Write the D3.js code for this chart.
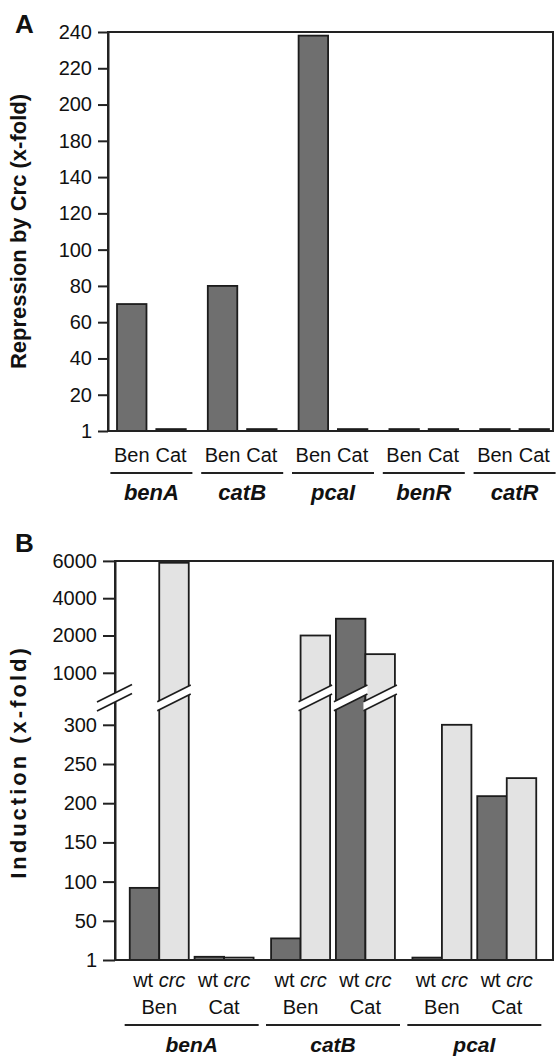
<!DOCTYPE html>
<html>
<head>
<meta charset="utf-8">
<script src="https://cdn.jsdelivr.net/npm/d3@7"></script>
<style>
  body { margin: 0; background: #fff; }
  svg { display: block; font-family: "Liberation Sans", Arial, sans-serif; }
  .tick text { font-size: 20px; fill: #111; }
  .tick line, .domain { stroke: #222; stroke-width: 2; }
</style>
</head>
<body>
<div id="chart"></div>
<script>
// ---- panel A data: repression by Crc
const genesA = ["benA", "catB", "pcaI", "benR", "catR"];
const condsA = ["Ben", "Cat"];
const benA_vals = [70, 80, 238, 2, 2];      // Ben, per gene
const catA_vals = [2, 2, 2, 2, 2];          // Cat, per gene
const ticksA = [1, 20, 40, 60, 80, 100, 120, 140, 180, 200, 220, 240];

// ---- panel B data: induction
const genesB = ["benA", "catB", "pcaI"];
const condsB = ["Ben", "Cat"];
const strainsB = ["wt", "crc"];
const wtBen = [92, 28, 4];
const crcBen = [5900, 2000, 300];
const wtCat = [5, 2900, 209];
const crcCat = [4, 1500, 232];
const ticksB = [1, 50, 100, 150, 200, 250, 300, 1000, 2000, 4000, 6000];

const W = 556, H = 1058;
const darkFill = "#6f6f6f", lightFill = "#e3e3e3", barStroke = "#1c1c1c";

const svg = d3.select("#chart").append("svg")
    .attr("width", W).attr("height", H);

// ================= panel A =================
let a_left = 108, a_right = 553, a_top = 32, a_bottom = 431;

// tick labels are evenly spaced (160 is skipped on the original axis)
let stepA = (a_bottom - a_top) / (ticksA.length - 1);
let yA = d3.scaleLinear()
    .domain(ticksA)
    .range(ticksA.map((t, i) => a_bottom - i * stepA));

let x0A = d3.scaleBand().domain(genesA).range([106, 560]).padding(0);
let x1A = d3.scaleBand().domain(condsA).range([0, x0A.bandwidth()])
    .paddingInner(0.25).paddingOuter(0.28);

let dataA = [];
genesA.forEach((g, i) => {
  dataA.push({gene: g, cond: "Ben", value: benA_vals[i]});
  dataA.push({gene: g, cond: "Cat", value: catA_vals[i]});
});

let gA = svg.append("g");

gA.selectAll("rect.bar").data(dataA).enter().append("rect")
    .attr("class", "bar")
    .attr("x", d => x0A(d.gene) + x1A(d.cond))
    .attr("width", x1A.bandwidth())
    .attr("y", d => yA(d.value))
    .attr("height", d => yA(1) - yA(d.value))
    .attr("fill", darkFill)
    .attr("stroke", barStroke)
    .attr("stroke-width", 1.8);

gA.append("rect")
    .attr("x", a_left).attr("y", a_top)
    .attr("width", a_right - a_left).attr("height", a_bottom - a_top)
    .attr("fill", "none").attr("stroke", "#222").attr("stroke-width", 2);

gA.append("g")
    .attr("transform", "translate(" + a_left + ",0)")
    .call(d3.axisLeft(yA).tickValues(ticksA).tickFormat(d3.format("d"))
      .tickSize(10).tickPadding(6).tickSizeOuter(0));

// category labels
gA.selectAll("text.cond").data(dataA).enter().append("text")
    .attr("class", "cond")
    .attr("x", d => x0A(d.gene) + x1A(d.cond) + x1A.bandwidth() / 2)
    .attr("y", 462)
    .attr("text-anchor", "middle")
    .attr("font-size", 20)
    .attr("fill", "#111")
    .text(d => d.cond);

gA.selectAll("line.grp").data(genesA).enter().append("line")
    .attr("class", "grp")
    .attr("x1", d => x0A(d) + x0A.bandwidth() / 2 - 41)
    .attr("x2", d => x0A(d) + x0A.bandwidth() / 2 + 41)
    .attr("y1", 473).attr("y2", 473)
    .attr("stroke", "#222").attr("stroke-width", 2);

gA.selectAll("text.gene").data(genesA).enter().append("text")
    .attr("class", "gene")
    .attr("x", d => x0A(d) + x0A.bandwidth() / 2)
    .attr("y", 500)
    .attr("text-anchor", "middle")
    .attr("font-size", 22)
    .attr("font-weight", "bold")
    .attr("font-style", "italic")
    .attr("fill", "#111")
    .text(d => d);

gA.append("text")
    .attr("transform", "translate(26," + ((a_top + a_bottom) / 2) + ") rotate(-90)")
    .attr("text-anchor", "middle")
    .attr("font-size", 22)
    .attr("font-weight", "bold")
    .attr("fill", "#111")
    .text("Repression by Crc (x-fold)");

svg.append("text")
    .attr("x", 15).attr("y", 33)
    .attr("font-size", 26).attr("font-weight", "bold").attr("fill", "#111")
    .text("A");

// ================= panel B =================
let b_left = 115, b_right = 553, b_top = 561, b_bottom = 960;
let lowStep = 39.2, upStep = 37.3;
let breakGap = 52;
let rangeB = ticksB.map((t, i) => {
  if (i <= 6) return b_bottom - i * lowStep;
  return b_bottom - 6 * lowStep - breakGap - (i - 7) * upStep;
});
let yB = d3.scaleLinear().domain(ticksB).range(rangeB);
let breakY = (yB(300) + yB(1000)) / 2 - 1;

let x0B = d3.scaleBand().domain(genesB).range([121, 545]).padding(0);
let x1B = d3.scaleBand().domain(condsB).range([0, x0B.bandwidth()])
    .paddingInner(0.09).paddingOuter(0.135);
let x2B = d3.scaleBand().domain(strainsB).range([0, x1B.bandwidth()]).padding(0);

let dataB = [];
genesB.forEach((g, i) => {
  dataB.push({gene: g, cond: "Ben", strain: "wt", value: wtBen[i]});
  dataB.push({gene: g, cond: "Ben", strain: "crc", value: crcBen[i]});
  dataB.push({gene: g, cond: "Cat", strain: "wt", value: wtCat[i]});
  dataB.push({gene: g, cond: "Cat", strain: "crc", value: crcCat[i]});
});
let barX = d => x0B(d.gene) + x1B(d.cond) + x2B(d.strain);

let gB = svg.append("g");

gB.selectAll("rect.bar").data(dataB).enter().append("rect")
    .attr("class", "bar")
    .attr("x", barX)
    .attr("width", x2B.bandwidth())
    .attr("y", d => yB(d.value))
    .attr("height", d => yB(1) - yB(d.value))
    .attr("fill", d => d.strain == "wt" ? darkFill : lightFill)
    .attr("stroke", barStroke)
    .attr("stroke-width", 1.8);

gB.append("rect")
    .attr("x", b_left).attr("y", b_top)
    .attr("width", b_right - b_left).attr("height", b_bottom - b_top)
    .attr("fill", "none").attr("stroke", "#222").attr("stroke-width", 2);

gB.append("g")
    .attr("transform", "translate(" + b_left + ",0)")
    .call(d3.axisLeft(yB).tickValues(ticksB).tickFormat(d3.format("d"))
      .tickSize(12).tickPadding(6).tickSizeOuter(0));

// axis break marks: on the y axis and on every bar that crosses the break
function breakMark(xl, xr) {
  let xm = (xl + xr) / 2, half = 4.5, slope = 0.5;
  let yAt = (x, off) => breakY + off - slope * (x - xm);
  let poly = [[xl, yAt(xl, -half)], [xr, yAt(xr, -half)], [xr, yAt(xr, half)], [xl, yAt(xl, half)]];
  gB.append("polygon")
      .attr("points", poly.map(p => p.join(",")).join(" "))
      .attr("fill", "#fff");
  [-half, half].forEach(off => {
    gB.append("line")
        .attr("x1", xl).attr("y1", yAt(xl, off))
        .attr("x2", xr).attr("y2", yAt(xr, off))
        .attr("stroke", "#1c1c1c").attr("stroke-width", 1.6);
  });
}
breakMark(b_left - 18, b_left + 17);
dataB.filter(d => d.value > 300).forEach(d => {
  breakMark(barX(d) - 2, barX(d) + x2B.bandwidth() + 2);
});

// strain labels "wt crc" under each pair
let pairs = [];
genesB.forEach(g => condsB.forEach(c => pairs.push({gene: g, cond: c})));
let pairCx = d => x0B(d.gene) + x1B(d.cond) + x1B.bandwidth() / 2;

let st = gB.selectAll("text.strain").data(pairs).enter().append("text")
    .attr("class", "strain")
    .attr("x", pairCx)
    .attr("y", 987)
    .attr("text-anchor", "middle")
    .attr("font-size", 20)
    .attr("fill", "#111");
st.append("tspan").text(strainsB[0] + " ");
st.append("tspan").attr("font-style", "italic").text(strainsB[1]);

gB.selectAll("text.cond").data(pairs).enter().append("text")
    .attr("class", "cond")
    .attr("x", pairCx)
    .attr("y", 1014)
    .attr("text-anchor", "middle")
    .attr("font-size", 20)
    .attr("fill", "#111")
    .text(d => d.cond);

gB.selectAll("line.grp").data(genesB).enter().append("line")
    .attr("class", "grp")
    .attr("x1", d => x0B(d) + x0B.bandwidth() / 2 - 67)
    .attr("x2", d => x0B(d) + x0B.bandwidth() / 2 + 67)
    .attr("y1", 1025).attr("y2", 1025)
    .attr("stroke", "#222").attr("stroke-width", 2);

gB.selectAll("text.gene").data(genesB).enter().append("text")
    .attr("class", "gene")
    .attr("x", d => x0B(d) + x0B.bandwidth() / 2)
    .attr("y", 1052)
    .attr("text-anchor", "middle")
    .attr("font-size", 21)
    .attr("font-weight", "bold")
    .attr("font-style", "italic")
    .attr("fill", "#111")
    .text(d => d);

gB.append("text")
    .attr("transform", "translate(26,762) rotate(-90)")
    .attr("text-anchor", "middle")
    .attr("font-size", 22)
    .attr("font-weight", "bold")
    .attr("letter-spacing", 3)
    .attr("fill", "#111")
    .text("Induction (x-fold)");

svg.append("text")
    .attr("x", 15).attr("y", 552)
    .attr("font-size", 26).attr("font-weight", "bold").attr("fill", "#111")
    .text("B");
</script>
</body>
</html>
